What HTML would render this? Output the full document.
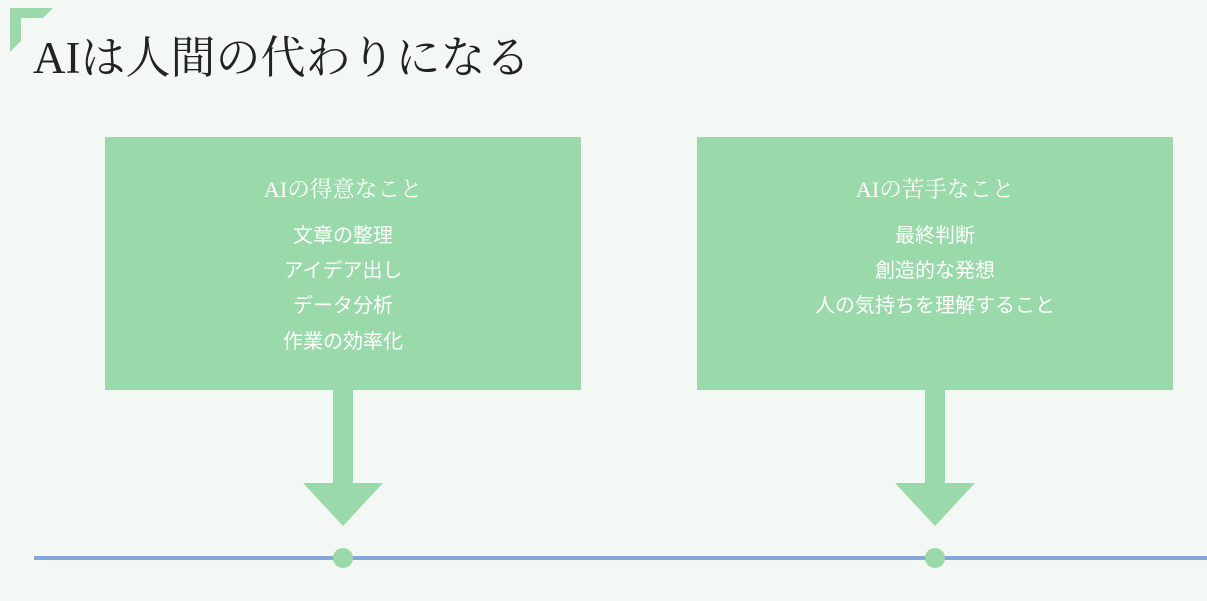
<!DOCTYPE html>
<html><head><meta charset="utf-8"><style>
body{margin:0;width:1207px;height:601px;background:#f3f8f5;overflow:hidden;position:relative}
.t{position:absolute;left:33px;top:21px;font:45px "Liberation Serif","Noto Serif CJK SC",serif;color:#222;white-space:nowrap}
.box{position:absolute;top:137px;width:476px;height:253px;background:#9ad9aa;color:#fff;text-align:center}
.h{position:absolute;left:0;right:0;font:22.5px "Liberation Serif","Noto Serif CJK SC",serif;line-height:28px}
.i{position:absolute;left:0;right:0;font:20px "Liberation Sans","Noto Sans CJK JP",sans-serif;line-height:24px}
</style></head><body>
<svg width="1207" height="601" style="position:absolute;left:0;top:0">
<polygon points="10,8 53,8 43,18 21,18 21,41 10,52" fill="#9ad9aa"/>
<rect x="333" y="389" width="20" height="95" fill="#9ad9aa"/>
<polygon points="303,483 383,483 343,526" fill="#9ad9aa"/>
<rect x="925" y="389" width="20" height="95" fill="#9ad9aa"/>
<polygon points="895,483 975,483 935,526" fill="#9ad9aa"/>
<rect x="34" y="556" width="1173" height="4" fill="#82a9da"/>
<circle cx="343" cy="558" r="10" fill="#9ad9aa"/>
<circle cx="935" cy="558" r="10" fill="#9ad9aa"/>
</svg>
<div class="t">AIは人間の代わりになる</div>
<div class="box" style="left:105px">
<div class="h" style="top:39px">AIの得意なこと</div>
<div class="i" style="top:87px">文章の整理</div>
<div class="i" style="top:122px">アイデア出し</div>
<div class="i" style="top:157px">データ分析</div>
<div class="i" style="top:193px">作業の効率化</div>
</div>
<div class="box" style="left:697px">
<div class="h" style="top:39px">AIの苦手なこと</div>
<div class="i" style="top:87px">最終判断</div>
<div class="i" style="top:122px">創造的な発想</div>
<div class="i" style="top:157px">人の気持ちを理解すること</div>
</div>
</body></html>
